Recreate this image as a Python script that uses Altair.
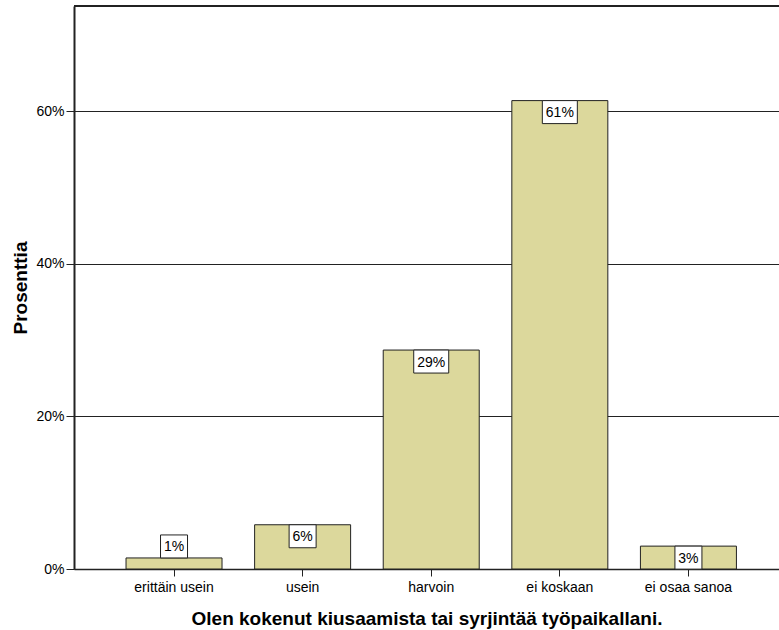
import altair as alt
import pandas as pd

# Responses to "Olen kokenut kiusaamista tai syrjintää työpaikallani."
categories = ["erittäin usein", "usein", "harvoin", "ei koskaan", "ei osaa sanoa"]
percent = [1.45, 5.8, 28.7, 61.4, 3.0]

y_ticks = [0, 20, 40, 60]
y_max = 73.8

W, H = 705, 563
BOX_H = 23
FONT = "Liberation Sans"
BAR_FILL = "#DCD89C"
LINE = "#222222"

df = pd.DataFrame({"cat": categories, "pct": percent})

x_scale = alt.Scale(domain=categories, paddingInner=0.253, paddingOuter=0.3675, align=0.55)
y_scale = alt.Scale(domain=[0, y_max], nice=False, zero=True)

x_enc = alt.X(
    "cat:N",
    scale=x_scale,
    sort=categories,
    title="Olen kokenut kiusaamista tai syrjintää työpaikallani.",
    axis=alt.Axis(
        labelAngle=0,
        labelFont=FONT,
        labelFontSize=14,
        labelColor="black",
        labelPadding=4,
        tickSize=7,
        tickColor=LINE,
        domainColor=LINE,
        domainWidth=1.5,
        titleFont=FONT,
        titleFontSize=19,
        titleFontWeight="bold",
        titleColor="black",
        titlePadding=15,
    ),
)

y_enc = alt.Y(
    "pct:Q",
    scale=y_scale,
    title="Prosenttia",
    axis=alt.Axis(
        values=y_ticks,
        labelExpr="datum.value + '%'",
        labelFont=FONT,
        labelFontSize=14,
        labelColor="black",
        labelPadding=2,
        tickSize=8,
        tickColor=LINE,
        domainColor=LINE,
        domainWidth=2,
        grid=True,
        gridColor=LINE,
        gridWidth=1,
        titleFont=FONT,
        titleFontSize=19,
        titleFontWeight="bold",
        titleColor="black",
        titlePadding=5,
    ),
)

base = alt.Chart(df)

bars = base.mark_bar(fill=BAR_FILL, stroke=LINE, strokeWidth=1, width=96).encode(
    x=x_enc, y=y_enc
)

# Top border of the plot frame
top_rule = base.mark_rule(color=LINE, strokeWidth=1.5).encode(
    x=alt.value(0), x2=alt.value(W), y=alt.value(0)
)

labelled = base.transform_calculate(
    label="format(datum.pct, '.0f') + '%'"
)


def label_layers(inside, long_label):
    cond_in = "datum.pct >= 2.5" if inside else "datum.pct < 2.5"
    cond_len = "length(datum.label) > 2" if long_label else "length(datum.label) <= 2"
    src = labelled.transform_filter(f"({cond_in}) && ({cond_len})")
    box_w = 35 if long_label else 27
    if inside:
        box = src.mark_bar(
            fill="white", stroke=LINE, strokeWidth=1, width=box_w, yOffset=0, y2Offset=BOX_H
        )
        txt_off = BOX_H / 2
    else:
        box = src.mark_bar(
            fill="white", stroke=LINE, strokeWidth=1, width=box_w, yOffset=-BOX_H, y2Offset=0
        )
        txt_off = -BOX_H / 2
    box = box.encode(
        x=alt.X("cat:N", scale=x_scale, sort=categories),
        y=alt.Y("pct:Q", scale=y_scale),
        y2="pct:Q",
    )
    txt = src.mark_text(
        font=FONT, fontSize=14, color="black", baseline="middle", align="center", dy=txt_off + 1
    ).encode(
        x=alt.X("cat:N", scale=x_scale, sort=categories),
        y=alt.Y("pct:Q", scale=y_scale),
        text="label:N",
    )
    return [box, txt]


layers = [bars, top_rule]
for inside in (True, False):
    for long_label in (True, False):
        layers += label_layers(inside, long_label)

chart = (
    alt.layer(*layers)
    .properties(
        width=W,
        height=H,
        autosize=alt.AutoSizeParams(type="none"),
        padding={"left": 74, "top": 6, "right": 0, "bottom": 61},
        background="white",
    )
    .configure_view(strokeWidth=0)
)

chart.save("out.html", embed_options={"renderer": "svg", "actions": False})
